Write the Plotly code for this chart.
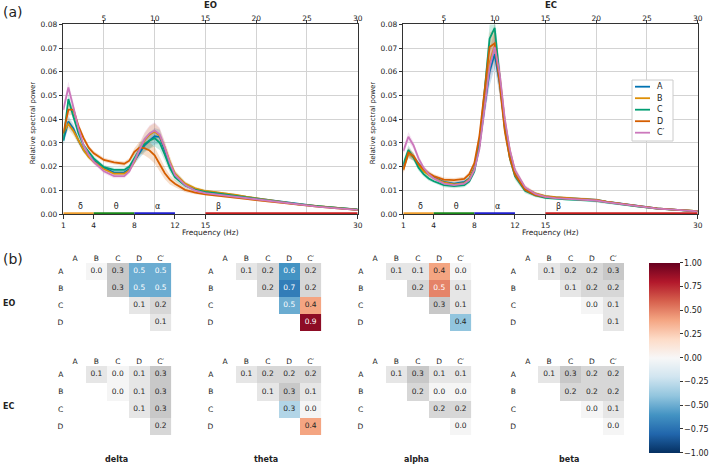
import plotly.graph_objects as go

# ---- spectra (a) ----
freqs = [1, 1.5, 2, 2.5, 3, 3.5, 4, 5, 6, 7, 7.5, 8, 8.5, 9, 9.5, 10, 10.5, 11, 11.5, 12,
         13, 14, 15, 16, 17, 18, 19, 20, 21, 22, 24, 26, 28, 30]

eo_a = [0.031, 0.039, 0.036, 0.031, 0.027, 0.0245, 0.0225, 0.0195, 0.0175, 0.0175, 0.019, 0.0225,
        0.026, 0.029, 0.031, 0.0328, 0.0325, 0.027, 0.021, 0.0165, 0.0125, 0.0105, 0.0095, 0.009,
        0.0085, 0.008, 0.0072, 0.0066, 0.006, 0.0054, 0.0043, 0.0033, 0.0026, 0.0019]
eo_b = [0.034, 0.038, 0.035, 0.031, 0.027, 0.024, 0.022, 0.019, 0.017, 0.017, 0.0185, 0.022,
        0.027, 0.031, 0.0335, 0.0348, 0.033, 0.028, 0.022, 0.017, 0.0128, 0.0108, 0.0097, 0.0092,
        0.0087, 0.0081, 0.0073, 0.0066, 0.006, 0.0054, 0.0042, 0.0033, 0.0025, 0.0018]
eo_c = [0.031, 0.0485, 0.041, 0.034, 0.029, 0.026, 0.0235, 0.0198, 0.0186, 0.0186, 0.020, 0.0235,
        0.027, 0.0295, 0.031, 0.032, 0.030, 0.025, 0.0195, 0.0155, 0.012, 0.0102, 0.0093, 0.0088,
        0.0083, 0.0078, 0.0071, 0.0065, 0.0059, 0.0053, 0.0042, 0.0033, 0.0025, 0.0018]
eo_d = [0.034, 0.044, 0.044, 0.037, 0.032, 0.028, 0.0256, 0.0228, 0.0218, 0.0212, 0.0225, 0.0262,
        0.028, 0.0278, 0.0268, 0.0248, 0.021, 0.0172, 0.0145, 0.0128, 0.0102, 0.009, 0.0083, 0.0079,
        0.0075, 0.007, 0.0064, 0.0059, 0.0054, 0.0049, 0.0039, 0.0031, 0.0024, 0.0017]
eo_cp = [0.044, 0.0534, 0.045, 0.036, 0.029, 0.025, 0.022, 0.018, 0.016, 0.016, 0.018, 0.0225,
         0.0275, 0.0315, 0.034, 0.0352, 0.0335, 0.028, 0.0215, 0.0165, 0.0122, 0.0099, 0.0088, 0.0083,
         0.0078, 0.0073, 0.0067, 0.0061, 0.0055, 0.005, 0.004, 0.0031, 0.0024, 0.0017]
eo_sem = [0.002, 0.0025, 0.002, 0.0015, 0.0012, 0.001, 0.001, 0.0009, 0.0009, 0.0009, 0.001, 0.0015,
          0.0025, 0.003, 0.0035, 0.0035, 0.003, 0.0025, 0.002, 0.0015, 0.001, 0.0007, 0.0006, 0.0005,
          0.0005, 0.0005, 0.0004, 0.0004, 0.0004, 0.0003, 0.0003, 0.0002, 0.0002, 0.0002]

ec_a = [0.020, 0.0256, 0.024, 0.021, 0.0185, 0.0168, 0.0155, 0.0135, 0.0128, 0.0135, 0.015, 0.0195,
        0.029, 0.045, 0.060, 0.0675, 0.055, 0.037, 0.025, 0.0175, 0.0105, 0.0085, 0.0074, 0.007,
        0.0068, 0.0066, 0.0064, 0.006, 0.0052, 0.0046, 0.0034, 0.0024, 0.0017, 0.0012]
ec_b = [0.019, 0.0255, 0.024, 0.0205, 0.018, 0.0165, 0.0152, 0.0133, 0.0125, 0.013, 0.0148, 0.019,
        0.029, 0.047, 0.064, 0.071, 0.058, 0.039, 0.0265, 0.018, 0.011, 0.0087, 0.0075, 0.0071,
        0.0069, 0.0067, 0.0064, 0.006, 0.0052, 0.0045, 0.0033, 0.0023, 0.0017, 0.0012]
ec_c = [0.021, 0.027, 0.024, 0.0195, 0.0168, 0.015, 0.0138, 0.0122, 0.0118, 0.0122, 0.0138, 0.018,
        0.029, 0.052, 0.074, 0.0785, 0.058, 0.036, 0.0235, 0.016, 0.0098, 0.0078, 0.0068, 0.0064,
        0.0062, 0.006, 0.0058, 0.0055, 0.0049, 0.0043, 0.0032, 0.0023, 0.0016, 0.0011]
ec_d = [0.0185, 0.026, 0.0245, 0.021, 0.019, 0.0172, 0.016, 0.0145, 0.0143, 0.0148, 0.0168, 0.0215,
        0.033, 0.053, 0.0705, 0.072, 0.055, 0.035, 0.0235, 0.0165, 0.0102, 0.008, 0.0072, 0.0068,
        0.0066, 0.0064, 0.0062, 0.0058, 0.0051, 0.0045, 0.0033, 0.0024, 0.0017, 0.0012]
ec_cp = [0.0265, 0.0326, 0.029, 0.0235, 0.0195, 0.0168, 0.015, 0.0128, 0.0122, 0.0128, 0.0143, 0.0185,
         0.0275, 0.044, 0.062, 0.0705, 0.059, 0.040, 0.027, 0.0185, 0.0112, 0.0085, 0.0072, 0.0067,
         0.0065, 0.0063, 0.006, 0.0057, 0.005, 0.0044, 0.0033, 0.0023, 0.0017, 0.0011]
ec_sem = [0.0015, 0.002, 0.0015, 0.0012, 0.001, 0.001, 0.0009, 0.0009, 0.0009, 0.0009, 0.001, 0.0012,
          0.002, 0.004, 0.006, 0.006, 0.005, 0.003, 0.002, 0.0015, 0.001, 0.0007, 0.0006, 0.0005,
          0.0005, 0.0005, 0.0005, 0.0005, 0.0004, 0.0004, 0.0003, 0.0003, 0.0002, 0.0002]

groups = ['A', 'B', 'C', 'D', 'C′']
colors = ['#0173b2', '#de8f05', '#029e73', '#d55e00', '#cc78bc']
fills = ['rgba(1,115,178,0.2)', 'rgba(222,143,5,0.2)', 'rgba(2,158,115,0.2)',
         'rgba(213,94,0,0.2)', 'rgba(204,120,188,0.2)']

band_names = ['δ', 'θ', 'α', 'β']
band_lo = [1, 4, 8, 15]
band_hi = [4, 8, 12, 30]
band_label_x = [2.7, 6.2, 10.3, 16.3]
band_colors = ['#f0a030', '#1a8a1a', '#2020d0', '#c81e1e']

# ---- effect sizes (b): pairs A-B, A-C, A-D, A-C', B-C, B-D, B-C', C-D, C-C', D-C' ----
eo_delta = [0.0, 0.3, -0.5, -0.5, 0.3, -0.5, -0.5, 0.1, 0.2, 0.1]
eo_delta_sig = [0, 0, 1, 1, 0, 1, 1, 0, 0, 0]
eo_theta = [0.1, 0.2, -0.6, 0.2, 0.2, -0.7, 0.2, -0.5, 0.4, 0.9]
eo_theta_sig = [0, 0, 1, 0, 0, 1, 0, 1, 1, 1]
eo_alpha = [0.1, 0.1, 0.4, 0.0, 0.2, 0.5, 0.1, 0.3, 0.1, -0.4]
eo_alpha_sig = [0, 0, 1, 0, 0, 1, 0, 0, 0, 1]
eo_beta = [0.1, 0.2, 0.2, 0.3, 0.1, 0.2, 0.2, 0.0, 0.1, 0.1]
eo_beta_sig = [0] * 10
ec_delta = [0.1, 0.0, 0.1, 0.3, 0.0, 0.1, 0.3, 0.1, 0.3, 0.2]
ec_delta_sig = [0] * 10
ec_theta = [0.1, 0.2, 0.2, 0.2, 0.1, 0.3, 0.1, -0.3, 0.0, 0.4]
ec_theta_sig = [0, 0, 0, 0, 0, 0, 0, 1, 0, 1]
ec_alpha = [0.1, 0.3, 0.1, 0.1, 0.2, 0.0, 0.0, 0.2, 0.2, 0.0]
ec_alpha_sig = [0] * 10
ec_beta = [0.1, 0.3, 0.2, 0.2, 0.2, 0.2, 0.2, 0.0, 0.1, 0.0]
ec_beta_sig = [0] * 10

pairs = [(0, 1), (0, 2), (0, 3), (0, 4), (1, 2), (1, 3), (1, 4), (2, 3), (2, 4), (3, 4)]
band_words = ['delta', 'theta', 'alpha', 'beta']

rdbu_r = [[0.0, '#053061'], [0.1, '#2166ac'], [0.2, '#4393c3'], [0.3, '#92c5de'], [0.4, '#d1e5f0'],
          [0.5, '#f7f7f7'], [0.6, '#fddbc7'], [0.7, '#f4a582'], [0.8, '#d6604d'], [0.9, '#b2182b'],
          [1.0, '#67001f']]
greys = [[0, '#f5f5f5'], [1, '#9a9a9a']]

W, H = 709, 464
FONT = 'DejaVu Sans'
TXT = '#222222'
FS = 7.5  # tick / cell text size


def px(x):
    return x / W


def py(y):
    return 1 - y / H


fig = go.Figure()

# spectra
spectra = [
    ('x', 'y', [eo_a, eo_b, eo_c, eo_d, eo_cp], eo_sem),
    ('x2', 'y2', [ec_a, ec_b, ec_c, ec_d, ec_cp], ec_sem),
]
for xa, ya, series, sem in spectra:
    for vals, col, fc in zip(series, colors, fills):
        up = [v + s for v, s in zip(vals, sem)]
        lo = [v - s for v, s in zip(vals, sem)]
        fig.add_trace(go.Scatter(x=freqs + freqs[::-1], y=up + lo[::-1], fill='toself',
                                 fillcolor=fc, line=dict(width=0), mode='lines',
                                 xaxis=xa, yaxis=ya, showlegend=False, hoverinfo='skip'))
    for vals, col, name in zip(series, colors, groups):
        fig.add_trace(go.Scatter(x=freqs, y=vals, mode='lines', name=name,
                                 line=dict(color=col, width=1.8), xaxis=xa, yaxis=ya,
                                 showlegend=False))
    for lo_, hi_, bc in zip(band_lo, band_hi, band_colors):
        fig.add_trace(go.Scatter(x=[lo_, hi_], y=[0, 0], mode='lines',
                                 line=dict(color=bc, width=3.5), xaxis=xa, yaxis=ya,
                                 showlegend=False, hoverinfo='skip'))
    fig.add_trace(go.Scatter(x=band_label_x, y=[0.003] * 4, mode='text', text=band_names,
                             textfont=dict(size=8, color=TXT), xaxis=xa, yaxis=ya,
                             showlegend=False, hoverinfo='skip'))

# invisible traces for the bottom frequency axes
for xa, ya, vals in (('x3', 'y', eo_a), ('x4', 'y2', ec_a)):
    fig.add_trace(go.Scatter(x=freqs, y=vals, mode='lines', line=dict(width=0), opacity=0,
                             xaxis=xa, yaxis=ya, showlegend=False, hoverinfo='skip'))

spec_left = [63.3, 403.3]
spec_w = 294.4
spec_top, spec_bot = 24.4, 214.0
y_dom = [py(spec_bot), py(spec_top)]

axis_common = dict(range=[1, 30], showline=True, linecolor='#333333', linewidth=1,
                   ticks='outside', ticklen=3.5, tickcolor='#333333', zeroline=False,
                   automargin=False, layer='below traces', tickfont=dict(size=FS, color=TXT))
for k, (key, anchor) in enumerate((('xaxis', 'y'), ('xaxis2', 'y2'))):
    fig.layout[key] = dict(axis_common, domain=[px(spec_left[k]), px(spec_left[k] + spec_w)],
                           anchor=anchor, side='top', mirror=True, ticklabelstandoff=-4,
                           tickvals=[5, 10, 15, 20, 25, 30], showgrid=True, gridcolor='#d3d3d3')
for key, over, anchor in (('xaxis3', 'x', 'y'), ('xaxis4', 'x2', 'y2')):
    fig.layout[key] = dict(axis_common, overlaying=over, anchor=anchor, side='bottom',
                           tickvals=[1, 4, 8, 12, 15, 30], showgrid=False)
for key, anchor in (('yaxis', 'x'), ('yaxis2', 'x2')):
    fig.layout[key] = dict(domain=y_dom, anchor=anchor, range=[0, 0.08], dtick=0.01,
                           tickformat='.2f', showgrid=True, gridcolor='#d3d3d3', showline=True,
                           mirror=True, linecolor='#333333', ticks='outside', ticklen=3.5,
                           tickcolor='#333333', zeroline=False, automargin=False,
                           layer='below traces', tickfont=dict(size=FS, color=TXT))

annotations = []
for k, title in enumerate(['EO', 'EC']):
    cx = spec_left[k] + spec_w / 2
    annotations.append(dict(text='<b>' + title + '</b>', x=px(cx), y=py(5),
                            font=dict(size=8.5, color=TXT)))
    annotations.append(dict(text='Frequency (Hz)', x=px(cx), y=py(232),
                            font=dict(size=7.5, color=TXT)))
    annotations.append(dict(text='Relative spectral power', x=px(spec_left[k] - 30), y=py(123),
                            textangle=-90, font=dict(size=7, color=TXT)))

# legend drawn inside the EC panel
shapes = [dict(type='rect', xref='paper', yref='paper', x0=px(632), x1=px(673),
               y0=py(141), y1=py(80), line=dict(color='#cccccc', width=1),
               fillcolor='white', layer='above')]
for k, (name, col) in enumerate(zip(groups, colors)):
    yy = py(86.7 + 11.5 * k)
    shapes.append(dict(type='line', xref='paper', yref='paper', x0=px(635), x1=px(650),
                       y0=yy, y1=yy, line=dict(color=col, width=1.8), layer='above'))
    annotations.append(dict(text=name, x=px(655), y=yy, xanchor='left',
                            font=dict(size=8, color=TXT)))

# effect size grids
grid_vals = [[eo_delta, eo_theta, eo_alpha, eo_beta], [ec_delta, ec_theta, ec_alpha, ec_beta]]
grid_sig = [[eo_delta_sig, eo_theta_sig, eo_alpha_sig, eo_beta_sig],
            [ec_delta_sig, ec_theta_sig, ec_alpha_sig, ec_beta_sig]]
panel_left = [64.3, 214.3, 364.3, 517.0]
panel_w = 107.0
panel_y = [(263.0, 331.0), (366.0, 435.0)]

n = 5
colorbar_done = False
for r in range(2):
    for b in range(4):
        xa = 'x%d' % n
        ya = 'y%d' % n
        vals = grid_vals[r][b]
        sig = grid_sig[r][b]
        zg = [[None] * 5 for _ in range(4)]
        zs = [[None] * 5 for _ in range(4)]
        tx, ty, tt, tc = [], [], [], []
        for (i, j), v, s in zip(pairs, vals, sig):
            if s:
                zs[i][j] = v
            else:
                zg[i][j] = abs(v)
            tx.append(j)
            ty.append(i)
            tt.append('%.1f' % abs(v))
            tc.append('white' if (s and abs(v) >= 0.5) else '#262626')
        fig.add_trace(go.Heatmap(z=zg, x=list(range(5)), y=list(range(4)), colorscale=greys,
                                 zmin=0, zmax=0.6, showscale=False, xaxis=xa, yaxis=ya,
                                 hoverinfo='skip'))
        sig_kw = dict(showscale=False)
        if not colorbar_done and any(sig):
            sig_kw = dict(showscale=True, colorbar=dict(
                x=px(649), xanchor='left', y=py(262.7), yanchor='top', xpad=0, ypad=0,
                len=(452.3 - 262.7) / H, lenmode='fraction', thickness=31, thicknessmode='pixels',
                outlinewidth=0, tickvals=[-1, -0.75, -0.5, -0.25, 0, 0.25, 0.5, 0.75, 1],
                tickformat='.2f', ticks='outside', ticklen=3, tickcolor='#333333',
                tickfont=dict(size=8, color=TXT)))
            colorbar_done = True
        fig.add_trace(go.Heatmap(z=zs, x=list(range(5)), y=list(range(4)), colorscale=rdbu_r,
                                 zmin=-1, zmax=1, xaxis=xa, yaxis=ya, hoverinfo='skip', **sig_kw))
        fig.add_trace(go.Scatter(x=tx, y=ty, mode='text', text=tt,
                                 textfont=dict(size=FS, color=tc, family=FONT),
                                 xaxis=xa, yaxis=ya, showlegend=False, hoverinfo='skip'))
        y0, y1 = panel_y[r]
        fig.layout['xaxis%d' % n] = dict(domain=[px(panel_left[b]), px(panel_left[b] + panel_w)],
                                         anchor=ya, range=[-0.5, 4.5], side='top',
                                         tickvals=list(range(5)), ticktext=groups, automargin=False,
                                         showgrid=False, zeroline=False, showline=False, ticks='',
                                         tickfont=dict(size=FS, color=TXT))
        fig.layout['yaxis%d' % n] = dict(domain=[py(y1), py(y0)], anchor=xa,
                                         range=[3.5, -0.5], tickvals=list(range(4)),
                                         ticktext=groups[:4], showgrid=False, zeroline=False,
                                         automargin=False, showline=False, ticks='',
                                         tickfont=dict(size=FS, color=TXT))
        n += 1

annotations += [
    dict(text='(a)', x=px(1), y=py(12), xanchor='left', font=dict(size=14, color=TXT)),
    dict(text='(b)', x=px(1), y=py(259), xanchor='left', font=dict(size=14, color=TXT)),
    dict(text='<b>EO</b>', x=px(1), y=py(303), xanchor='left', font=dict(size=8, color=TXT)),
    dict(text='<b>EC</b>', x=px(1), y=py(406), xanchor='left', font=dict(size=8, color=TXT)),
]
for b, word in enumerate(band_words):
    annotations.append(dict(text='<b>' + word + '</b>', x=px(panel_left[b] + 52), y=py(459),
                            font=dict(size=8, color=TXT)))
for a in annotations:
    a.setdefault('xanchor', 'center')
    a.update(xref='paper', yref='paper', showarrow=False, yanchor='middle')

fig.update_layout(
    width=W, height=H, margin=dict(l=0, r=0, t=0, b=0, autoexpand=False),
    paper_bgcolor='white', plot_bgcolor='white',
    font=dict(family=FONT, size=FS, color=TXT),
    annotations=annotations, shapes=shapes, showlegend=False,
)

# the page body has a default 8px margin; drop it so the figure fills the window
fig.write_html("out.html", config={'displayModeBar': False},
               post_script="document.body.style.margin='0px';")
